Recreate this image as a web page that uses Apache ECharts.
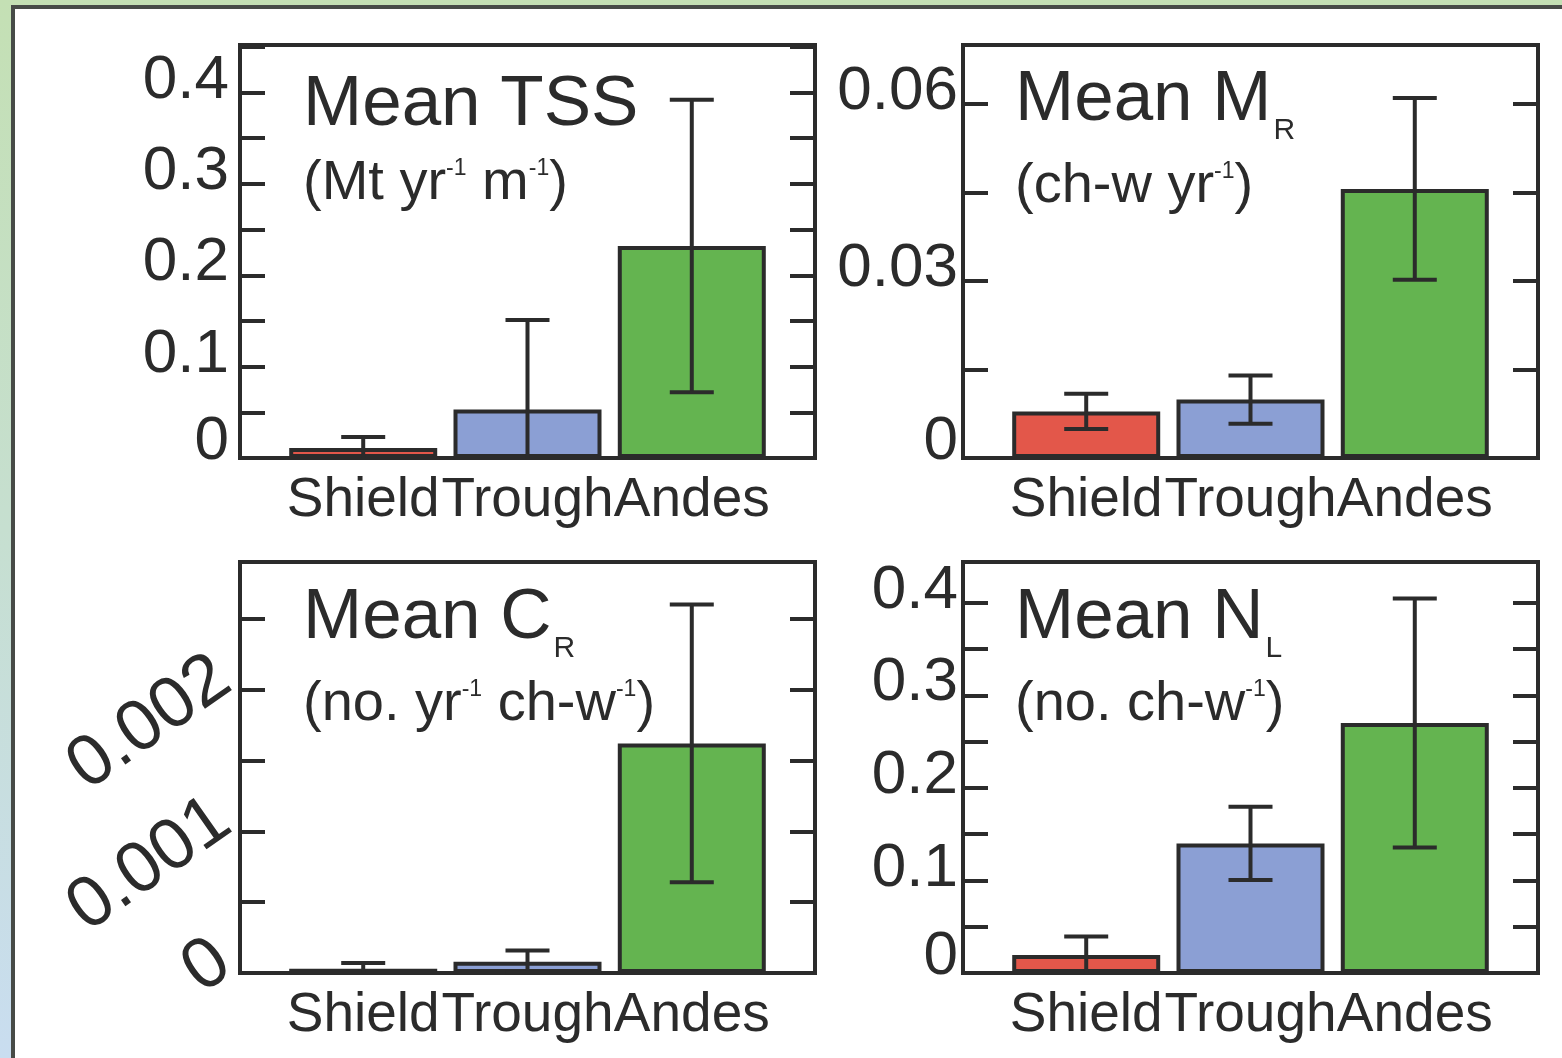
<!DOCTYPE html>
<html>
<head>
<meta charset="utf-8">
<script src="https://cdn.jsdelivr.net/npm/echarts@6/dist/echarts.min.js"></script>
<style>
  html, body { margin: 0; padding: 0; }
  body {
    width: 1562px; height: 1058px; overflow: hidden; position: relative;
    background: linear-gradient(to bottom, #c4e0b4 0%, #c6dfd0 50%, #c9ddf0 100%);
  }
  .sheet {
    position: absolute; left: 11px; top: 5px; right: 0; bottom: 0;
    background: #fff;
    border-left: 4px solid #474b47;
    border-top: 4px solid #474b47;
  }
  #chart { position: absolute; left: 0; top: 0; width: 1562px; height: 1058px; }
</style>
</head>
<body>
<div class="sheet"></div>
<div id="chart"></div>
<script>
const categories = ['Shield', 'Trough', 'Andes'];
const barColors = ['#e3574a', '#8b9fd4', '#64b450'];

// Mean TSS (Mt yr-1 m-1)
const tssMean = [0.011, 0.053, 0.232];
const tssErr = [0.012, 0.098, 0.160];
// Mean M_R (ch-w yr-1)
const mrMean = [0.0079, 0.0099, 0.0456];
const mrErr = [0.003, 0.0041, 0.0154];
// Mean C_R (no. yr-1 ch-w-1)
const crMean = [0.00003, 0.00008, 0.00162];
const crErr = [0.00004, 0.000078, 0.00098];
// Mean N_L (no. ch-w-1)
const nlMean = [0.0195, 0.14, 0.27];
const nlErr = [0.02, 0.0395, 0.1345];

const font = '"Liberation Sans", Arial, sans-serif';
const ink = '#2b2b2b';

const panels = [
  { left: 240, top: 45, height: 413, mean: tssMean, err: tssErr, max: 0.452, step: 0.05, labelStep: 0.1, margin: 11, rotate: 0,
    title: '{t|Mean TSS}\n{s|(Mt yr}{sup|-1}{s| m}{sup|-1}{s|)}', tx: 303, ty: 67 },
  { left: 963, top: 45, height: 413, mean: mrMean, err: mrErr, max: 0.07, step: 0.015, labelStep: 0.03, margin: 5, rotate: 0,
    title: '{t|Mean M}{sub|R}\n{s|(ch-w yr}{sup|-1}{s|)}', tx: 1015, ty: 54 },
  { left: 240, top: 562, height: 411, mean: crMean, err: crErr, max: 0.0029, step: 0.0005, labelStep: 0.001, margin: 4, rotate: 35,
    title: '{t|Mean C}{sub|R}\n{s|(no. yr}{sup|-1}{s| ch-w}{sup|-1}{s|)}', tx: 303, ty: 572 },
  { left: 963, top: 562, height: 411, mean: nlMean, err: nlErr, max: 0.444, step: 0.05, labelStep: 0.1, margin: 5, rotate: 0,
    title: '{t|Mean N}{sub|L}\n{s|(no. ch-w}{sup|-1}{s|)}', tx: 1015, ty: 572 }
];

const titleRich = {
  t: { fontSize: 71, lineHeight: 76, fontFamily: font, color: ink },
  sub: { fontSize: 30, lineHeight: 92, fontFamily: font, color: ink, verticalAlign: 'bottom', padding: [0, 0, 0, 2] },
  s: { fontSize: 56, lineHeight: 82, fontFamily: font, color: ink },
  sup: { fontSize: 23, lineHeight: 66, fontFamily: font, color: ink, verticalAlign: 'top', padding: [14, 0, 0, 0] }
};

const chart = echarts.init(document.getElementById('chart'));

const grid = [], xAxis = [], yAxis = [], series = [], graphic = [];

panels.forEach((p, i) => {
  grid.push({
    left: p.left, top: p.top, width: 575, height: p.height,
    show: true, borderColor: ink, borderWidth: 4, backgroundColor: 'transparent'
  });
  xAxis.push({
    gridIndex: i, type: 'value', min: 0.25, max: 3.75,
    axisLine: { show: false }, axisTick: { show: false }, splitLine: { show: false },
    axisLabel: {
      customValues: [1, 2, 3],
      formatter: v => categories[Math.round(v) - 1] || '',
      hideOverlap: false,
      fontSize: 55, fontFamily: font, color: ink, margin: 15
    }
  });
  const isMajor = v => Math.abs(v / p.labelStep - Math.round(v / p.labelStep)) < 1e-6;
  const tick = { inside: true, length: 25, lineStyle: { width: 4, color: ink } };
  const labelSize = p.rotate ? 72 : 62;
  yAxis.push({
    gridIndex: i, type: 'value', position: 'left', min: 0, max: p.max, interval: p.step,
    axisLine: { show: false }, splitLine: { show: false }, axisTick: tick,
    axisLabel: {
      formatter: v => {
        if (v > p.max - 1e-9) return '';
        if (v === 0) return '{z|0}';
        return isMajor(v) ? String(+v.toFixed(4)) : '';
      },
      rich: { z: { fontSize: labelSize, fontFamily: font, color: ink, padding: [0, 0, p.rotate ? 0 : 8, 0] } },
      fontSize: labelSize, fontFamily: font, color: ink, margin: p.margin, rotate: p.rotate,
      padding: p.rotate ? [0, 0, 44, 0] : [0, 0, 24, 0]
    }
  });
  yAxis.push({
    gridIndex: i, type: 'value', position: 'right', min: 0, max: p.max, interval: p.step,
    axisLine: { show: false }, splitLine: { show: false }, axisTick: tick,
    axisLabel: { show: false }
  });
  series.push({
    type: 'bar', xAxisIndex: i, yAxisIndex: i * 2, barWidth: 148,
    itemStyle: { borderColor: ink, borderWidth: 4 },
    data: p.mean.map((m, j) => ({ value: [j + 1, m], itemStyle: { color: barColors[j] } })),
    silent: true
  });
  series.push({
    type: 'custom', xAxisIndex: i, yAxisIndex: i * 2, z: 5, silent: true,
    data: p.mean.map((m, j) => [j + 1, m - p.err[j], m + p.err[j]]),
    renderItem: (params, api) => {
      const x = api.value(0);
      const hi = api.coord([x, api.value(2)]);
      const lo = api.coord([x, api.value(1)]);
      const bottom = params.coordSys.y + params.coordSys.height;
      const half = 22;
      const style = { stroke: ink, lineWidth: 4, fill: null };
      const children = [
        { type: 'line', shape: { x1: hi[0], y1: hi[1], x2: hi[0], y2: Math.min(lo[1], bottom) }, style },
        { type: 'line', shape: { x1: hi[0] - half, y1: hi[1], x2: hi[0] + half, y2: hi[1] }, style }
      ];
      if (lo[1] <= bottom) {
        children.push({ type: 'line', shape: { x1: lo[0] - half, y1: lo[1], x2: lo[0] + half, y2: lo[1] }, style });
      }
      return { type: 'group', children };
    }
  });
  graphic.push({
    type: 'text', x: p.tx, y: p.ty, z: 10,
    style: { text: p.title, rich: titleRich, fill: ink }
  });
});

chart.setOption({
  animation: false,
  grid, xAxis, yAxis, series, graphic
});
</script>
</body>
</html>
